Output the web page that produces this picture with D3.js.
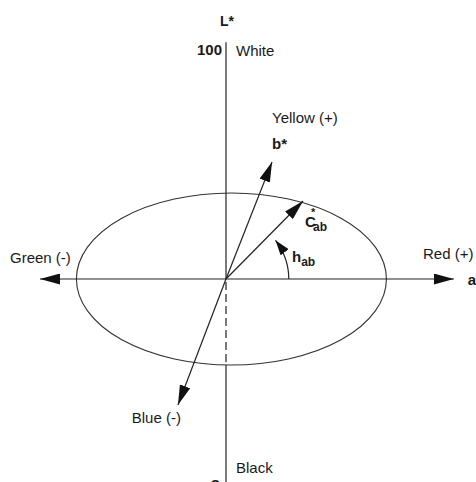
<!DOCTYPE html>
<html><head><meta charset="utf-8">
<script src="https://cdn.jsdelivr.net/npm/d3@7"></script>
<style>
html,body{margin:0;padding:0;background:#fff;}
svg{display:block;font-family:"Liberation Sans",Arial,Helvetica,sans-serif;}
</style></head>
<body><svg id="c" width="476" height="482"></svg>
<script>
// ---- data (a*, b* plane units) ----
const rayNames = ["Red (+)", "Green (-)", "Yellow (+)", "Blue (-)", "C*ab"];
const rayA = [147, -120, 29.7, -31, 49.7];
const rayB = [0, 0, 75.5, -81.3, 50.3];
const ellipseCenterA = 3.5;
const ellipseRadiusA = 100;
const ellipseRadiusB = 55.5;
const lightnessValues = [100, 0];
const lightnessLabels = ["White", "Black"];
const lightnessTickText = ["100", "o"];
const hueArcRadius = 40.5;
const hueArcEndDeg = 38;
const chromaBottomB = -55.5;

const svg = d3.select("#c");
const x = d3.scaleLinear().domain([-100, 100]).range([71, 381]);
const y = d3.scaleLinear().domain([-100, 100]).range([434, 124]);
const L = d3.scaleLinear().domain([0, 100]).range([486, 51]);
const ink = "#222";

const defs = svg.append("defs");
function marker(id, len, half) {
  defs.append("marker").attr("id", id)
    .attr("markerUnits", "userSpaceOnUse")
    .attr("viewBox", `0 ${-half} ${len} ${2*half}`)
    .attr("refX", len).attr("refY", 0)
    .attr("markerWidth", len).attr("markerHeight", 2*half)
    .attr("orient", "auto")
    .append("path").attr("d", `M0,${-half}L${len},0L0,${half}Z`).attr("fill", "#111");
}
marker("ah", 20, 5.5);
marker("ahs", 15, 5);

// ellipse
svg.append("ellipse")
  .attr("cx", x(ellipseCenterA)).attr("cy", y(0))
  .attr("rx", x(ellipseRadiusA) - x(0)).attr("ry", y(0) - y(ellipseRadiusB))
  .attr("fill", "none").attr("stroke", "#333").attr("stroke-width", 1.1);

// L* axis
svg.append("line").attr("x1", x(0)).attr("x2", x(0))
  .attr("y1", L(102)).attr("y2", y(0))
  .attr("stroke", ink).attr("stroke-width", 1.2);
svg.append("line").attr("x1", x(0)).attr("x2", x(0))
  .attr("y1", y(0) + 3).attr("y2", y(chromaBottomB))
  .attr("stroke", ink).attr("stroke-width", 1.2).attr("stroke-dasharray", "8,4");
svg.append("line").attr("x1", x(0)).attr("x2", x(0))
  .attr("y1", y(chromaBottomB)).attr("y2", L(-2))
  .attr("stroke", ink).attr("stroke-width", 1.2);

// rays (arrows)
rayNames.forEach((n, i) => {
  svg.append("line")
    .attr("x1", x(0)).attr("y1", y(0))
    .attr("x2", x(rayA[i])).attr("y2", y(rayB[i]))
    .attr("stroke", ink).attr("stroke-width", 1.2)
    .attr("marker-end", "url(#ah)");
});

// hue arc
const arcPts = d3.range(0, hueArcEndDeg + 0.5, 1).map(d => {
  const r = d * Math.PI / 180;
  return [x(hueArcRadius * Math.cos(r)), y(0) - (x(hueArcRadius) - x(0)) * Math.sin(r)];
});
svg.append("path").attr("d", d3.line()(arcPts))
  .attr("fill", "none").attr("stroke", ink).attr("stroke-width", 1.2)
  .attr("marker-end", "url(#ahs)");

// text
function txt(s, px, py, opts = {}) {
  const t = svg.append("text").attr("x", px).attr("y", py)
    .attr("font-size", opts.size || 15).attr("fill", "#1a1a1a")
    .attr("font-weight", opts.bold ? "bold" : "normal")
    .attr("text-anchor", opts.anchor || "start").text(s);
  return t;
}
txt("L*", x(0) + 1, 26, {bold: true, anchor: "middle", size: 14});
txt(lightnessTickText[0], x(0) - 4, L(lightnessValues[0]) + 4, {bold: true, anchor: "end"});
txt(lightnessLabels[0], x(0) + 10, L(lightnessValues[0]) + 5);
txt(lightnessTickText[1], x(0) - 6, L(lightnessValues[1]) + 2, {bold: true, anchor: "end"});
txt(lightnessLabels[1], x(0) + 10, L(lightnessValues[1]) - 13);

txt(rayNames[2], x(rayA[2]), y(rayB[2]) - 39);
txt("b*", x(rayA[2]), y(rayB[2]) - 13, {bold: true});
txt(rayNames[1], 10, y(0) - 16);
txt(rayNames[0], 423, y(0) - 20);
txt("a*", x(rayA[0]) + 14, y(0) + 6, {bold: true});
txt(rayNames[3], x(rayA[3]) + 3, y(rayB[3]) + 18, {anchor: "end"});

// C*ab
const c = svg.append("text").attr("x", 305).attr("y", 227)
  .attr("font-size", 15).attr("font-weight", "bold").attr("fill", "#1a1a1a");
c.append("tspan").text("C");
c.append("tspan").attr("x", 311).attr("dy", -11).attr("font-size", 11).text("*");
c.append("tspan").attr("x", 313).attr("dy", 15).attr("font-size", 12).text("ab");
// h_ab
const h = svg.append("text").attr("x", 292).attr("y", 262)
  .attr("font-size", 15).attr("font-weight", "bold").attr("fill", "#1a1a1a");
h.append("tspan").text("h");
h.append("tspan").attr("dy", 4).attr("font-size", 12).text("ab");
</script></body></html>
